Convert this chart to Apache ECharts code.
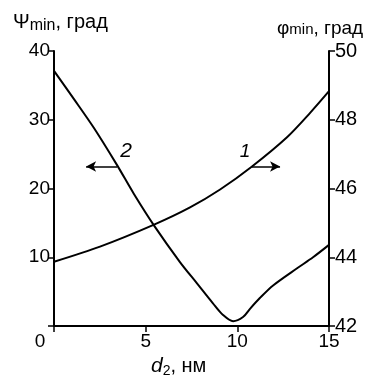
<!DOCTYPE html>
<html>
<head>
<meta charset="utf-8">
<script src="https://cdn.jsdelivr.net/npm/echarts@6/dist/echarts.min.js"></script>
<style>
  html, body { margin: 0; padding: 0; background: #fff; }
  #chart { width: 381px; height: 378px; }
</style>
</head>
<body>
<div id="chart"></div>
<script>
// curve 1 (right axis, phi_min)
var d1 = [0, 2.51, 5.46, 7.42, 9.06, 10.8, 12.71, 13.97, 15]
var phi1 = [43.87, 44.31, 44.95, 45.45, 45.97, 46.64, 47.49, 48.2, 48.83]
// curve 2 (left axis, psi_min)
var d2 = [0, 1.09, 2.18, 3.44, 4.36, 5.46, 6.87, 7.8, 8.67, 9.22, 9.77, 10.31, 10.69, 11.24, 11.95, 13.26, 14.13, 15]
var psi2 = [37.1, 33.0, 28.8, 23.4, 19.2, 14.6, 9.3, 6.2, 3.3, 1.6, 0.7, 1.3, 2.5, 4.1, 5.9, 8.4, 10.0, 11.8]
var xTicks = [0, 5, 10, 15]

var font = 'Liberation Sans, Arial, sans-serif'

function pairs(xs, ys) {
  return xs.map(function (x, i) { return [x, ys[i]] })
}

var chart = echarts.init(document.getElementById('chart'))
chart.setOption({
  animation: false,
  grid: { left: 54, right: 52, top: 51, bottom: 52 },
  xAxis: {
    type: 'value',
    min: 0,
    max: 15,
    interval: 5,
    splitLine: { show: false },
    axisLine: { lineStyle: { color: '#000', width: 2 } },
    axisTick: { length: 6, lineStyle: { color: '#000', width: 1.5 } },
    axisLabel: {
      color: '#000',
      fontFamily: font,
      fontSize: 19,
      margin: 6,
      formatter: function (v) {
        return xTicks.indexOf(v) === 0 ? '{z|' + v + '}' : String(v)
      },
      rich: { z: { fontFamily: font, fontSize: 19, color: '#000', padding: [0, 28, 0, 0] } }
    }
  },
  yAxis: [
    {
      type: 'value',
      position: 'left',
      min: 0,
      max: 40,
      interval: 10,
      splitLine: { show: false },
      axisLine: { show: true, lineStyle: { color: '#000', width: 2 } },
      axisTick: { show: true, length: 6, lineStyle: { color: '#000', width: 1.5 } },
      axisLabel: {
        color: '#000', fontFamily: font, fontSize: 19, margin: 4,
        formatter: function (v) { return v === 0 ? '' : String(v) }
      }
    },
    {
      type: 'value',
      position: 'right',
      min: 42,
      max: 50,
      interval: 2,
      splitLine: { show: false },
      axisLine: { show: true, lineStyle: { color: '#000', width: 2 } },
      axisTick: { show: true, length: 6, lineStyle: { color: '#000', width: 1.5 } },
      axisLabel: { color: '#000', fontFamily: font, fontSize: 20, margin: 6 }
    }
  ],
  graphic: [
    {
      type: 'text', left: 13, top: 12,
      style: {
        text: '{a|Ψ}{b|min}{a|, град}',
        rich: {
          a: { fontFamily: font, fontSize: 20, fill: '#000' },
          b: { fontFamily: font, fontSize: 16, fill: '#000', padding: [7, 0, 0, 0] }
        }
      }
    },
    {
      type: 'text', left: 277, top: 19,
      style: {
        text: '{a|φ}{b|min}{a|, град}',
        rich: {
          a: { fontFamily: font, fontSize: 19, fill: '#000' },
          b: { fontFamily: font, fontSize: 15, fill: '#000', padding: [3, 0, 0, 0] }
        }
      }
    },
    {
      type: 'text', left: 151, top: 356,
      style: {
        text: '{i|d}{s|2}{a|, нм}',
        rich: {
          i: { fontFamily: font, fontSize: 21, fontStyle: 'italic', fill: '#000' },
          s: { fontFamily: font, fontSize: 14, fill: '#000', padding: [9, 0, 0, 0] },
          a: { fontFamily: font, fontSize: 20, fill: '#000' }
        }
      }
    }
  ],
  series: [
    {
      name: '1',
      type: 'line',
      yAxisIndex: 1,
      data: pairs(d1, phi1),
      smooth: 0.3,
      symbol: 'none',
      lineStyle: { color: '#000', width: 2 },
      markLine: {
        silent: true,
        symbol: ['none', 'arrow'],
        symbolSize: [8, 10],
        label: { show: false },
        lineStyle: { color: '#000', width: 1.5, type: 'solid' },
        data: [[{ coord: [10.8, 46.64] }, { coord: [12.33, 46.64] }]]
      },
      markPoint: {
        silent: true,
        symbol: 'circle',
        symbolSize: 0,
        data: [{
          coord: [10.42, 47.08],
          label: { show: true, formatter: '1', color: '#000', fontFamily: font, fontSize: 19, fontStyle: 'italic' }
        }]
      }
    },
    {
      name: '2',
      type: 'line',
      yAxisIndex: 0,
      data: pairs(d2, psi2),
      smooth: 0.3,
      symbol: 'none',
      lineStyle: { color: '#000', width: 2 },
      markLine: {
        silent: true,
        symbol: ['none', 'arrow'],
        symbolSize: [8, 10],
        label: { show: false },
        lineStyle: { color: '#000', width: 1.5, type: 'solid' },
        data: [[{ coord: [3.44, 23.2] }, { coord: [1.75, 23.2] }]]
      },
      markPoint: {
        silent: true,
        symbol: 'circle',
        symbolSize: 0,
        data: [{
          coord: [3.93, 25.5],
          label: { show: true, formatter: '2', color: '#000', fontFamily: font, fontSize: 21, fontStyle: 'italic' }
        }]
      }
    }
  ]
})
</script>
</body>
</html>
